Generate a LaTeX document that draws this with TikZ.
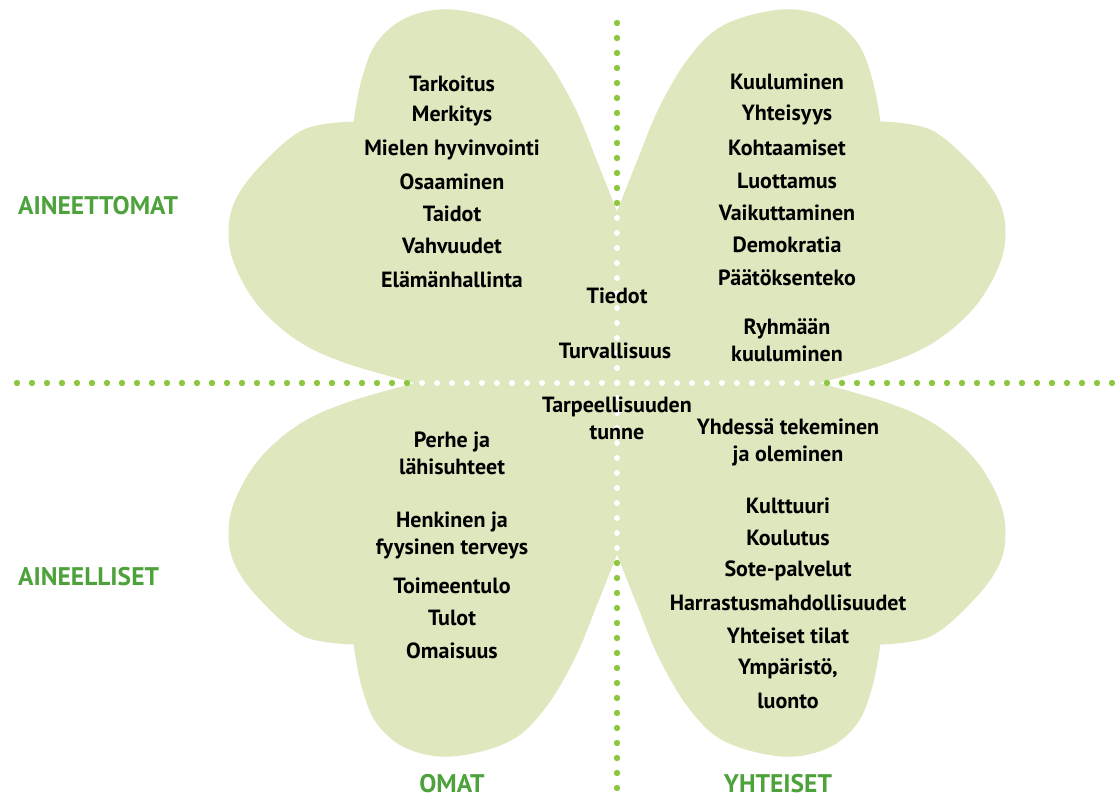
\documentclass[tikz,border=0pt]{standalone}
\usepackage{fontspec}
\setmainfont{PT Sans}
\definecolor{leaf}{HTML}{DEE7BE}
\definecolor{dotgreen}{HTML}{8DC63F}
\definecolor{labelgreen}{HTML}{4DA23B}
\tikzset{
	item/.style={font=\bfseries\fontsize{22}{27}\selectfont, align=center, inner sep=0pt},
	axislabel/.style={font=\bfseries\fontsize{25.5}{28}\selectfont, text=labelgreen, inner sep=0pt},
	gdot/.style={fill=dotgreen},
	wdot/.style={fill=white}
}

\begin{document}
\begin{tikzpicture}[x=1pt,y=1pt]
        \useasboundingbox (-617,-416) rectangle (499,383);
        % the four leaves
        \foreach \sx/\sy in {1/1,-1/1,1/-1,-1/-1}{
            \begin{scope}[xscale=\sx,yscale=\sy]
                \filldraw[fill=leaf,draw=leaf,line width=1pt,line join=round] (0,0) -- (0,170)
                    -- plot[smooth,tension=.6] coordinates {(0,170) (21,223) (43,276) (73,326) (108,358) (165,373) (210,365) (240,340) (255,303) (263,261)}
                    -- plot[smooth,tension=.6] coordinates {(263,261) (313,253) (355,218) (381,183) (388,150) (381,116) (357,76) (318,42) (270,20) (200,0)}
                    -- cycle;
            \end{scope}
        }
        % dotted axes
        \foreach \k in {-27,...,-12} \fill[gdot] (0,15*\k) circle (3.2);
        \foreach \k in {12,...,24} \fill[gdot] (0,15*\k) circle (3.2);
        \foreach \k in {-11,...,11} \fill[wdot] (0,15*\k) circle (3);
        \foreach \k in {-40,...,-14} \fill[gdot] (15*\k,0) circle (3.2);
        \foreach \k in {14,...,33} \fill[gdot] (15*\k,0) circle (3.2);
        \foreach \k in {-13,...,13} \fill[wdot] (15*\k,0) circle (3);
        % top left
        \node[item] (tarkoitus) at (-165,299) {Tarkoitus};
        \node[item] (merkitys) at (-165,267) {Merkitys};
        \node[item] (mieli) at (-165,233) {Mielen hyvinvointi};
        \node[item] (osaaminen) at (-165,201) {Osaaminen};
        \node[item] (taidot) at (-165,169) {Taidot};
        \node[item] (vahvuudet) at (-165,137) {Vahvuudet};
        \node[item] (elama) at (-165,103) {Elämänhallinta};
        % top right
        \node[item] (kuuluminen) at (170,301) {Kuuluminen};
        \node[item] (yhteisyys) at (170,268) {Yhteisyys};
        \node[item] (kohtaamiset) at (170,235) {Kohtaamiset};
        \node[item] (luottamus) at (170,202) {Luottamus};
        \node[item] (vaikuttaminen) at (170,170) {Vaikuttaminen};
        \node[item] (demokratia) at (170,138) {Demokratia};
        \node[item] (paatos) at (170,105) {Päätöksenteko};
        \node[item] (ryhma) at (170,43) {Ryhmään\\kuuluminen};
        % centre
        \node[item] (tiedot) at (0,87) {Tiedot};
        \node[item] (turva) at (-2,32) {Turvallisuus};
        \node[item] (tarve) at (0,-35) {Tarpeellisuuden\\tunne};
        % bottom left
        \node[item] (perhe) at (-165,-70) {Perhe ja\\lähisuhteet};
        \node[item] (terveys) at (-165,-152) {Henkinen ja\\fyysinen terveys};
        \node[item] (toimeentulo) at (-165,-203) {Toimeentulo};
        \node[item] (tulot) at (-165,-235) {Tulot};
        \node[item] (omaisuus) at (-165,-268) {Omaisuus};
        % bottom right
        \node[item] (yhdessa) at (171,-59) {Yhdessä tekeminen\\ja oleminen};
        \node[item] (kulttuuri) at (171,-123) {Kulttuuri};
        \node[item] (koulutus) at (171,-155) {Koulutus};
        \node[item] (sote) at (171,-188) {Sote-palvelut};
        \node[item] (harrastus) at (171,-220) {Harrastusmahdollisuudet};
        \node[item] (tilat) at (171,-253) {Yhteiset tilat};
        \node[item] (ymparisto) at (171,-286) {Ympäristö,};
        \node[item] (luonto) at (171,-318) {luonto};
        % axis labels
        \node[axislabel,anchor=west] (aineettomat) at (-599,177) {AINEETTOMAT};
        \node[axislabel,anchor=west] (aineelliset) at (-599,-194) {AINEELLISET};
        \node[axislabel] (omat) at (-165,-401) {OMAT};
        \node[axislabel] (yhteiset) at (161,-401) {YHTEISET};
    \end{tikzpicture}
\end{document}
